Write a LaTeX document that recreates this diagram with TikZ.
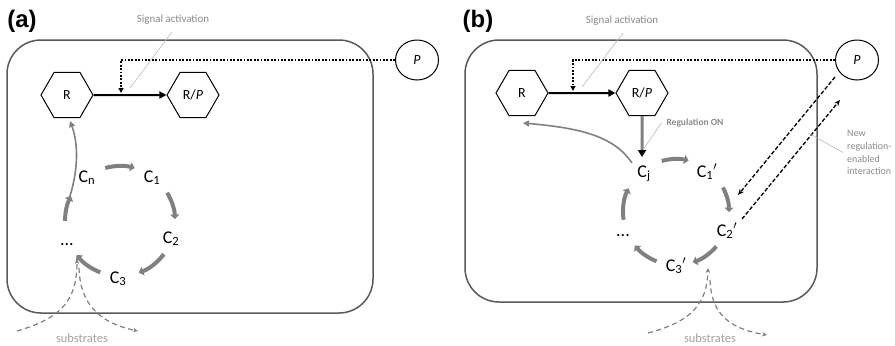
\documentclass[tikz,border=0pt]{standalone}
\usepackage{fontspec}
\setmainfont{Carlito}
\newfontfamily\panelfont{Liberation Sans}
\usetikzlibrary{arrows.meta,shapes.geometric,calc}
\definecolor{cellgray}{HTML}{595959}
\definecolor{arcgray}{HTML}{808080}
\definecolor{notegray}{HTML}{8A8A8A}
\definecolor{leadgray}{HTML}{BBBBBB}
\begin{document}
\begin{tikzpicture}[x=1bp,y=-1bp,
  panel/.style={inner sep=0pt, font=\panelfont\bfseries\fontsize{24}{26}\selectfont},
  cell/.style={draw=cellgray, line width=1.5bp, rounded corners=34bp},
  hexa/.style={draw, line width=1bp, regular polygon, regular polygon sides=6, minimum size=52bp, inner sep=0pt, font=\fontsize{14}{16}\selectfont},
  pnode/.style={draw, ellipse, line width=1bp, minimum width=43bp, minimum height=40bp, inner sep=0pt, font=\fontsize{14}{16}\selectfont\itshape},
  cyc/.style={draw=arcgray, line width=4bp, -{Triangle[length=4.5bp,width=9bp]}},
  clab/.style={anchor=base, inner sep=0pt, font=\fontsize{18}{20}\selectfont},
  mainarrow/.style={line width=2bp, -{Triangle[length=7bp,width=7bp]}},
  dotline/.style={line width=2bp, dash pattern=on 1.8bp off 1.6bp, -{Triangle[length=5bp,width=5bp]}},
  dasharrow/.style={line width=1.3bp, dash pattern=on 4bp off 2bp, -{Stealth[length=6bp,width=5bp]}},
  subline/.style={draw=arcgray, line width=1.2bp, dash pattern=on 5bp off 3.5bp, -{Stealth[length=5bp,width=4.5bp]}},
  note/.style={text=notegray, inner sep=0pt, font=\fontsize{11}{13}\selectfont},
  subtext/.style={text=notegray!80, inner sep=0pt, font=\fontsize{12.5}{14}\selectfont},
  leader/.style={draw=leadgray, line width=0.6bp},
  regline/.style={draw=arcgray, line width=1.6bp, -{Triangle[length=6bp,width=6bp]}},
  regon/.style={draw=arcgray, line width=3bp, -{Triangle[length=7bp,width=8bp,color=black]}}
]
\useasboundingbox (0,0) rectangle (895,345);

% ---------------- panel (a) ----------------
\node[panel] (la) at (22,21) {(a)};
\draw[cell] (7,40) rectangle (373,313);
\node[hexa] (Ra) at (67,95) {R};
\node[hexa] (RPa) at (193,95) {R/\textit{P}};
\node[pnode] (Pa) at (417,60) {P};
\draw[mainarrow] (Ra) -- (RPa);
\coordinate (sa) at (121,93);
\draw[dotline] (Pa) -| (sa);
\node[note] (siga) at (173,20) {Signal activation};
\coordinate (sla) at (130,88);
\draw[leader] ([shift={(-1,7)}]siga.south) -- (sla);

\coordinate (ca) at (120,221);
\draw[cyc] ($(ca)+(254.5:55)$) arc[start angle=254.5, end angle=285.5, radius=55];
\draw[cyc] ($(ca)+(329:55)$) arc[start angle=329, end angle=358, radius=55];
\draw[cyc] ($(ca)+(37:55)$) arc[start angle=37, end angle=70, radius=55];
\draw[cyc] ($(ca)+(111:55)$) arc[start angle=111, end angle=142, radius=55];
\draw[cyc] ($(ca)+(180:55)$) arc[start angle=180, end angle=207, radius=55];

\node[clab] (Cn) at (87,182) {C\textsubscript{n}};
\node[clab] (C1) at (152,182) {C\textsubscript{1}};
\node[clab] (C2) at (171,243) {C\textsubscript{2}};
\node[clab] (C3) at (118,283) {C\textsubscript{3}};
\node[clab] (dota) at (67,245) {...};

\coordinate (ga) at (66,207);
\coordinate (ra) at (70,121);
\draw[regline] (ga) .. controls (77,180) and (80,148) .. (ra);

\node[subtext] (suba) at (82,338) {substrates};
\coordinate (sain) at (77,259);
\coordinate (saout) at (138,331);
\draw[subline] (17,331) .. controls (62,318) and (77,300) .. (sain);
\draw[subline] (79,268) .. controls (80,300) and (95,322) .. (saout);

% ---------------- panel (b) ----------------
\node[panel] (lb) at (478,21) {(b)};
\draw[cell] (465,40) rectangle (817,302);
\node[hexa] (Rb) at (522,93) {R};
\node[hexa] (RPb) at (642,93) {R/\textit{P}};
\node[pnode] (Pb) at (857,60) {P};
\draw[mainarrow] (Rb) -- (RPb);
\coordinate (sb) at (573,91);
\draw[dotline] (Pb) -| (sb);
\node[note] (sigb) at (622,21) {Signal activation};
\coordinate (slb) at (582,87);
\draw[leader] ([shift={(1,7)}]sigb.south) -- (slb);

\coordinate (cjin) at (642,157);
\draw[regon] (RPb) -- (cjin);
\node[note, font=\bfseries\fontsize{9.5}{11}\selectfont] (regtxt) at (695,123) {Regulation ON};
\coordinate (rl) at (643,150);
\draw[leader] ([shift={(-5,0)}]regtxt.west) -- (rl);

\coordinate (cb) at (676,212);
\draw[cyc] ($(cb)+(254.4:53)$) arc[start angle=254.4, end angle=283.8, radius=53];
\draw[cyc] ($(cb)+(332.4:53)$) arc[start angle=332.4, end angle=360, radius=53];
\draw[cyc] ($(cb)+(40.5:53)$) arc[start angle=40.5, end angle=71.6, radius=53];
\draw[cyc] ($(cb)+(111.6:53)$) arc[start angle=111.6, end angle=140.9, radius=53];
\draw[cyc] ($(cb)+(171.6:53)$) arc[start angle=171.6, end angle=206.6, radius=53];

\node[clab] (Cj) at (644,177) {C\textsubscript{j}};
\node[clab] (C1b) at (707,177) {C\textsubscript{1}$'$};
\node[clab] (C2b) at (727,236) {C\textsubscript{2}$'$};
\node[clab] (C3b) at (676,271) {C\textsubscript{3}$'$};
\node[clab] (dotb) at (623,236) {...};

\coordinate (gb) at (632,163);
\coordinate (rb) at (523,123);
\draw[regline] (gb) .. controls (614,136) and (580,128) .. (rb);

\coordinate (d1s) at (835,77);
\coordinate (d1e) at (738,195);
\coordinate (d2s) at (742,219);
\coordinate (d2e) at (840,100);
\draw[dasharrow] (d1s) -- (d1e);
\draw[dasharrow] (d2s) -- (d2e);
\node[note, align=left, anchor=north west, font=\fontsize{10}{12.8}\selectfont] (newreg) at (847,130) {New\\regulation-\\enabled\\interaction};
\coordinate (nl) at (808,133);
\draw[leader] ([shift={(-4,0)}]newreg.west) -- (nl);

\node[subtext] (subb) at (710,338) {substrates};
\coordinate (sbin) at (708,268);
\coordinate (sbout) at (767,335);
\draw[subline] (648,333) .. controls (690,322) and (707,305) .. (sbin);
\draw[subline] (710,280) .. controls (711,310) and (725,328) .. (sbout);
\end{tikzpicture}
\end{document}
